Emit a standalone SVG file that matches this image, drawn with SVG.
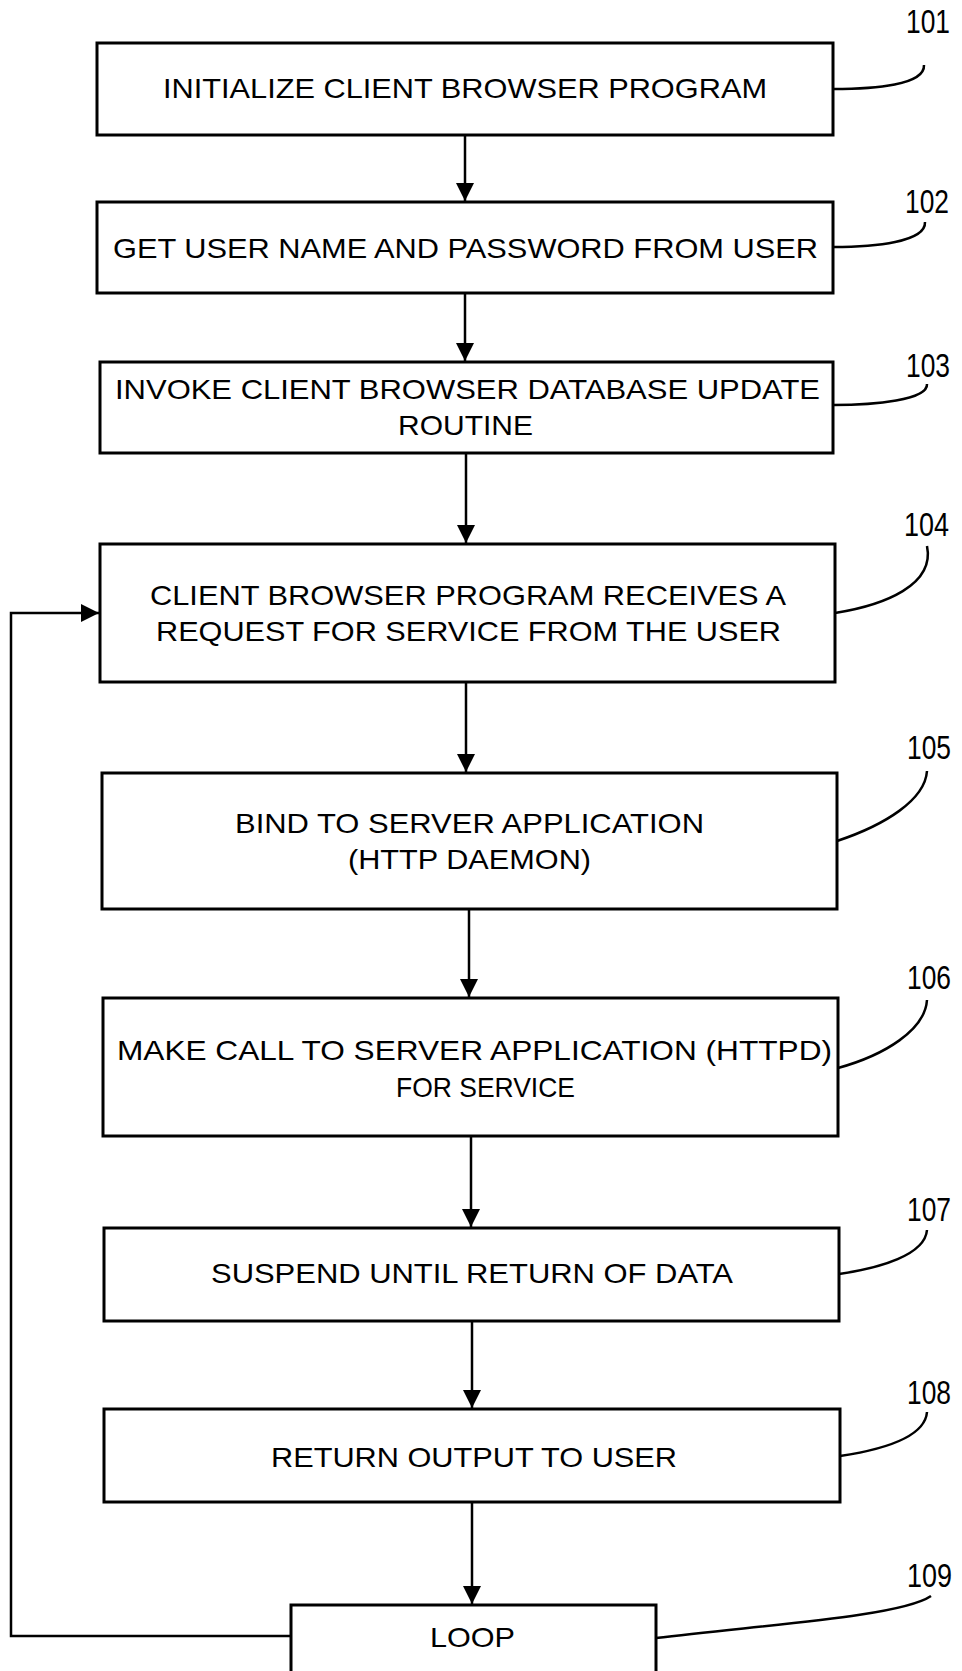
<svg xmlns="http://www.w3.org/2000/svg" width="962" height="1671" viewBox="0 0 962 1671">
<defs>
<style>
.box{fill:#fff;stroke:#000;stroke-width:3}
.t{font-family:"Liberation Sans",Arial,sans-serif;font-size:28px;fill:#000}
.lbl{font-family:"Liberation Sans",Arial,sans-serif;font-size:34px;fill:#000}
.c{fill:none;stroke:#000;stroke-width:2.5}
.ld{fill:none;stroke:#000;stroke-width:2.5}
</style>
<marker id="ah" markerUnits="userSpaceOnUse" markerWidth="20" markerHeight="18" refX="18" refY="9" orient="auto">
<path d="M0,0 L18,9 L0,18 Z" fill="#000"/>
</marker>
</defs>
<rect width="962" height="1671" fill="#fff"/>
<g id="connectors">
<line class="c" x1="465" y1="135" x2="465" y2="201" marker-end="url(#ah)"/>
<line class="c" x1="465" y1="293" x2="465" y2="361" marker-end="url(#ah)"/>
<line class="c" x1="466" y1="453" x2="466" y2="543" marker-end="url(#ah)"/>
<line class="c" x1="466" y1="682" x2="466" y2="772" marker-end="url(#ah)"/>
<line class="c" x1="469" y1="909" x2="469" y2="997" marker-end="url(#ah)"/>
<line class="c" x1="471" y1="1136" x2="471" y2="1227" marker-end="url(#ah)"/>
<line class="c" x1="472" y1="1321" x2="472" y2="1408" marker-end="url(#ah)"/>
<line class="c" x1="472" y1="1502" x2="472" y2="1604" marker-end="url(#ah)"/>
<path class="c" d="M291,1636 H11 V613 H99" marker-end="url(#ah)"/>
</g>
<g id="leaders">
<path class="ld" d="M833,89 C875,89 925,85 924,65"/>
<path class="ld" d="M833,247 C875,247 926,242 925,222"/>
<path class="ld" d="M833,405 C875,405 928,400 927,384"/>
<path class="ld" d="M835,613 C885,605 935,585 927,546"/>
<path class="ld" d="M837,841 C885,825 925,800 927,771"/>
<path class="ld" d="M838,1068 C885,1055 925,1030 927,1000"/>
<path class="ld" d="M839,1274 C880,1268 925,1255 927,1230"/>
<path class="ld" d="M840,1456 C880,1450 925,1438 927,1412"/>
<path class="ld" d="M656,1638 C760,1625 900,1617 931,1596"/>
</g>
<g id="n101">
<rect class="box" x="97" y="43" width="736" height="92"/>
<text class="t" x="163" y="98" textLength="604" lengthAdjust="spacingAndGlyphs">INITIALIZE CLIENT BROWSER PROGRAM</text>
<text class="lbl" x="906" y="33" textLength="44" lengthAdjust="spacingAndGlyphs">101</text>
</g>
<g id="n102">
<rect class="box" x="97" y="202" width="736" height="91"/>
<text class="t" x="113" y="258" textLength="705" lengthAdjust="spacingAndGlyphs">GET USER NAME AND PASSWORD FROM USER</text>
<text class="lbl" x="905" y="213" textLength="44" lengthAdjust="spacingAndGlyphs">102</text>
</g>
<g id="n103">
<rect class="box" x="100" y="362" width="733" height="91"/>
<text class="t" x="115" y="399" textLength="705" lengthAdjust="spacingAndGlyphs">INVOKE CLIENT BROWSER DATABASE UPDATE</text>
<text class="t" x="398" y="435" textLength="135" lengthAdjust="spacingAndGlyphs">ROUTINE</text>
<text class="lbl" x="906" y="377" textLength="44" lengthAdjust="spacingAndGlyphs">103</text>
</g>
<g id="n104">
<rect class="box" x="100" y="544" width="735" height="138"/>
<text class="t" x="150" y="605" textLength="636" lengthAdjust="spacingAndGlyphs">CLIENT BROWSER PROGRAM RECEIVES A</text>
<text class="t" x="156" y="641" textLength="625" lengthAdjust="spacingAndGlyphs">REQUEST FOR SERVICE FROM THE USER</text>
<text class="lbl" x="904" y="536" textLength="45" lengthAdjust="spacingAndGlyphs">104</text>
</g>
<g id="n105">
<rect class="box" x="102" y="773" width="735" height="136"/>
<text class="t" x="235" y="833" textLength="469" lengthAdjust="spacingAndGlyphs">BIND TO SERVER APPLICATION</text>
<text class="t" x="348" y="869" textLength="243" lengthAdjust="spacingAndGlyphs">(HTTP DAEMON)</text>
<text class="lbl" x="907" y="759" textLength="44" lengthAdjust="spacingAndGlyphs">105</text>
</g>
<g id="n106">
<rect class="box" x="103" y="998" width="735" height="138"/>
<text class="t" x="117" y="1060" textLength="715" lengthAdjust="spacingAndGlyphs">MAKE CALL TO SERVER APPLICATION  (HTTPD)</text>
<text class="t" x="396" y="1097" textLength="179" lengthAdjust="spacingAndGlyphs">FOR SERVICE</text>
<text class="lbl" x="907" y="989" textLength="44" lengthAdjust="spacingAndGlyphs">106</text>
</g>
<g id="n107">
<rect class="box" x="104" y="1228" width="735" height="93"/>
<text class="t" x="211" y="1283" textLength="522" lengthAdjust="spacingAndGlyphs">SUSPEND UNTIL RETURN OF DATA</text>
<text class="lbl" x="907" y="1221" textLength="44" lengthAdjust="spacingAndGlyphs">107</text>
</g>
<g id="n108">
<rect class="box" x="104" y="1409" width="736" height="93"/>
<text class="t" x="271" y="1467" textLength="406" lengthAdjust="spacingAndGlyphs">RETURN OUTPUT TO USER</text>
<text class="lbl" x="907" y="1404" textLength="44" lengthAdjust="spacingAndGlyphs">108</text>
</g>
<g id="n109">
<rect class="box" x="291" y="1605" width="365" height="80"/>
<text class="t" x="430" y="1647" textLength="85" lengthAdjust="spacingAndGlyphs">LOOP</text>
<text class="lbl" x="907" y="1587" textLength="45" lengthAdjust="spacingAndGlyphs">109</text>
</g>
</svg>
